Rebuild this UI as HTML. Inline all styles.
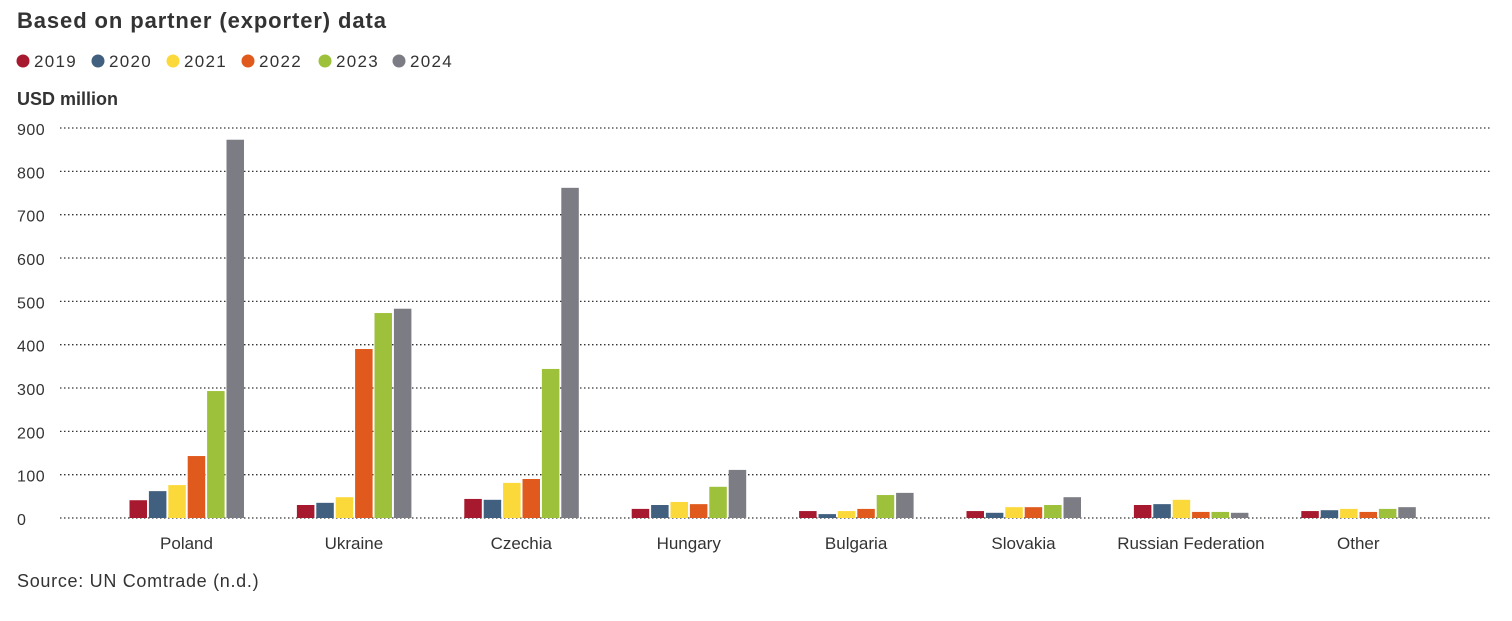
<!DOCTYPE html>
<html><head><meta charset="utf-8"><style>
body{margin:0;background:#fff;width:1512px;height:616px;overflow:hidden;font-family:"Liberation Sans",sans-serif;color:#333}
</style></head><body>
<svg id="s" width="1512" height="616" xmlns="http://www.w3.org/2000/svg" font-family="Liberation Sans, sans-serif">
<text x="17" y="28" font-size="22" font-weight="bold" fill="#333" letter-spacing="0.9">Based on partner (exporter) data</text>
<text x="17" y="105" font-size="18" font-weight="bold" fill="#333">USD million</text>
<text x="17" y="587" font-size="18" fill="#333" letter-spacing="0.7">Source: UN Comtrade (n.d.)</text>
</svg>
<script>
const s=document.getElementById('s');const NS='http://www.w3.org/2000/svg';
function el(t,a,txt){const e=document.createElementNS(NS,t);for(const k in a)e.setAttribute(k,a[k]);if(txt!=null)e.textContent=txt;s.appendChild(e);return e;}
const cols=['#a6192e','#41607f','#fcd93a','#e05a1e','#9dc13b','#7c7d84'];
const yrs=['2019','2020','2021','2022','2023','2024'];
const lx=[16,91,166,241,318,392];
yrs.forEach((y,i)=>{el('circle',{cx:lx[i]+7,cy:61,r:6.5,fill:cols[i]});el('text',{x:lx[i]+18,y:67,'font-size':17,fill:'#333','letter-spacing':'1.3'},y);});
const y0=518,k=0.4333;
for(let v=0;v<=900;v+=100){const y=y0-v*k;el('line',{x1:60,x2:1492,y1:y,y2:y,stroke:'#333','stroke-width':1.3,'stroke-dasharray':'1.5 2.5'});el('text',{x:17,y:y+7,'font-size':16,fill:'#333','letter-spacing':'0.5'},v);}
const data=[['Poland',[41,62,76,143,293,873]],['Ukraine',[30,35,48,390,473,483]],['Czechia',[44,42,81,90,344,762]],['Hungary',[21,30,37,32,72,111]],['Bulgaria',[16,9,16,21,53,58]],['Slovakia',[16,12,25,25,30,48]],['Russian Federation',[30,32,42,14,14,12]],['Other',[16,18,21,14,21,25]]];
data.forEach((d,g)=>{const c=186.5+g*167.4;d[1].forEach((v,i)=>{const x=c+(i-2.5)*19.4-8.5;el('rect',{x:x,y:y0-v*k,width:17.5,height:v*k,fill:cols[i]});});el('text',{x:c,y:549,'font-size':17,fill:'#333','text-anchor':'middle'},d[0]);});
</script>
</body></html>
